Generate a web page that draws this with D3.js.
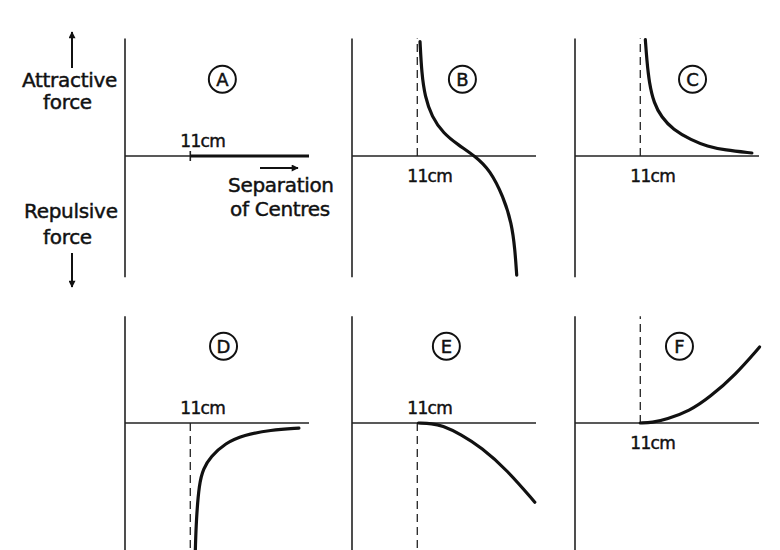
<!DOCTYPE html>
<html>
<head>
<meta charset="utf-8">
<script src="https://cdn.jsdelivr.net/npm/d3@7"></script>
<style>
  body { margin: 0; background: #fff; }
  text { font-family: "DejaVu Sans", sans-serif; fill: #111; stroke: #111; stroke-width: 0.45; }
</style>
</head>
<body>
<svg id="chart" width="780" height="550"></svg>
<script>
// separation of centres (cm) vs force (arbitrary units, + = attractive)
var panelNames = ["A", "B", "C", "D", "E", "F"]
var contactSep = 11
var sepMax = 31

var curveA = []
var curveB = [[11.46, 9.53], [11.74, 6.89], [12.3, 4.94], [13.43, 3.28], [15.38, 1.89], [17.91, 0.92],
              [20.72, 0], [23.25, -1.17], [25.49, -3.39], [26.91, -5.61], [27.46, -7.83], [27.75, -9.92]]
var curveC = [[11.85, 9.7], [12.1, 8.0], [12.5, 6.1], [13.3, 4.4], [14.55, 3.25], [16.5, 2.2],
              [19.6, 1.33], [22.3, 0.8], [25.2, 0.5], [29.8, 0.25]]
var curveD = [[11.85, -10.6], [12.0, -8.1], [12.5, -5.0], [13.2, -3.8], [14.4, -2.83],
              [16.9, -1.67], [20.0, -1.0], [24.5, -0.58], [29.3, -0.42]]
var curveE = [[11.2, 0], [13.5, -0.05], [15.1, -0.2], [18.4, -0.95], [21.8, -2.05], [26.1, -3.9], [30.8, -6.6]]
var curveF = [[11.0, 0], [13.0, 0.03], [15.4, 0.3], [19.3, 1.0], [22.7, 2.15], [27.0, 4.0], [31.1, 6.33]]
var curves = [curveA, curveB, curveC, curveD, curveE, curveF]

// where the dashed 11cm line runs: "up" to the top, "down" to the bottom
var dashDir = [null, "up", "up", "down", "down", "up"]
var tickLabelSide = ["above", "below", "below", "above", "above", "below"]
var labelSep = [16.4, 18.6, 19.8, 16.6, 15.9, 17.6]
var labelForce = 6.4

var svg = d3.select("#chart")

var colX = [125, 352, 575]
var rowY = [156, 423]
var rowTop = [9.8, 8.9]
var rowBottom = [-10.1, -11]

function drawPanel(i) {
  var col = i % 3, row = Math.floor(i / 3)
  var x = d3.scaleLinear().domain([0, sepMax]).range([colX[col], colX[col] + 184])
  var y = d3.scaleLinear().domain([-10, 10]).range([rowY[row] + 120, rowY[row] - 120])
  var g = svg.append("g")

  // axes
  g.append("line").attr("x1", x(0)).attr("x2", x(0))
    .attr("y1", y(rowTop[row])).attr("y2", y(rowBottom[row]))
    .attr("stroke", "#222").attr("stroke-width", 1.6)
  g.append("line").attr("x1", x(0)).attr("x2", x(sepMax))
    .attr("y1", y(0)).attr("y2", y(0))
    .attr("stroke", "#222").attr("stroke-width", 1.6)

  if (dashDir[i]) {
    g.append("line").attr("x1", x(contactSep)).attr("x2", x(contactSep))
      .attr("y1", y(0)).attr("y2", y(dashDir[i] == "up" ? rowTop[row] : rowBottom[row]))
      .attr("stroke", "#222").attr("stroke-width", 1.3)
      .attr("stroke-dasharray", "8,5")
  } else {
    // panel A: tick and heavy axis beyond contact
    g.append("line").attr("x1", x(contactSep)).attr("x2", x(contactSep))
      .attr("y1", y(0) - 5).attr("y2", y(0) + 5)
      .attr("stroke", "#222").attr("stroke-width", 1.6)
    g.append("line").attr("x1", x(contactSep)).attr("x2", x(sepMax))
      .attr("y1", y(0)).attr("y2", y(0))
      .attr("stroke", "#111").attr("stroke-width", 3.2)
  }

  if (curves[i].length) {
    var line = d3.line().x(function(d) { return x(d[0]) }).y(function(d) { return y(d[1]) })
      .curve(d3.curveBasis)
    g.append("path").attr("d", line(curves[i]))
      .attr("fill", "none").attr("stroke", "#111").attr("stroke-width", 3.2)
      .attr("stroke-linecap", "round")
  }

  g.append("text").attr("x", x(contactSep) - 10)
    .attr("y", tickLabelSide[i] == "above" ? y(0) - 9 : y(0) + 26)
    .attr("font-size", 17).attr("letter-spacing", -0.7).text("11cm")

  var cx = x(labelSep[i]), cy = y(labelForce)
  g.append("circle").attr("cx", cx).attr("cy", cy).attr("r", 13.5)
    .attr("fill", "none").attr("stroke", "#111").attr("stroke-width", 2)
  g.append("text").attr("x", cx).attr("y", cy + 6.5).attr("text-anchor", "middle")
    .attr("font-size", 18).text(panelNames[i])
}

for (var i = 0; i < panelNames.length; i++) { drawPanel(i) }

// arrows and side labels
var defs = svg.append("defs")
defs.append("marker").attr("id", "head").attr("viewBox", "0 0 10 10")
  .attr("refX", 9).attr("refY", 5).attr("markerWidth", 11).attr("markerHeight", 7)
  .attr("markerUnits", "userSpaceOnUse").attr("orient", "auto")
  .append("path").attr("d", "M0,0L10,5L0,10Z").attr("fill", "#111")

function arrow(x1, y1, x2, y2) {
  svg.append("line").attr("x1", x1).attr("y1", y1).attr("x2", x2).attr("y2", y2)
    .attr("stroke", "#111").attr("stroke-width", 2).attr("marker-end", "url(#head)")
}
arrow(72, 68, 72, 32)
arrow(72, 253, 72, 287)
arrow(260, 168, 298, 168)

var sideText = [["Attractive", 22, 87], ["force", 43, 109], ["Repulsive", 24, 218], ["force", 43, 244],
                ["Separation", 228, 192], ["of Centres", 230, 216]]
sideText.forEach(function(t) {
  svg.append("text").attr("x", t[1]).attr("y", t[2]).attr("font-size", 20)
    .attr("letter-spacing", -0.3).text(t[0])
})
</script>
</body>
</html>
